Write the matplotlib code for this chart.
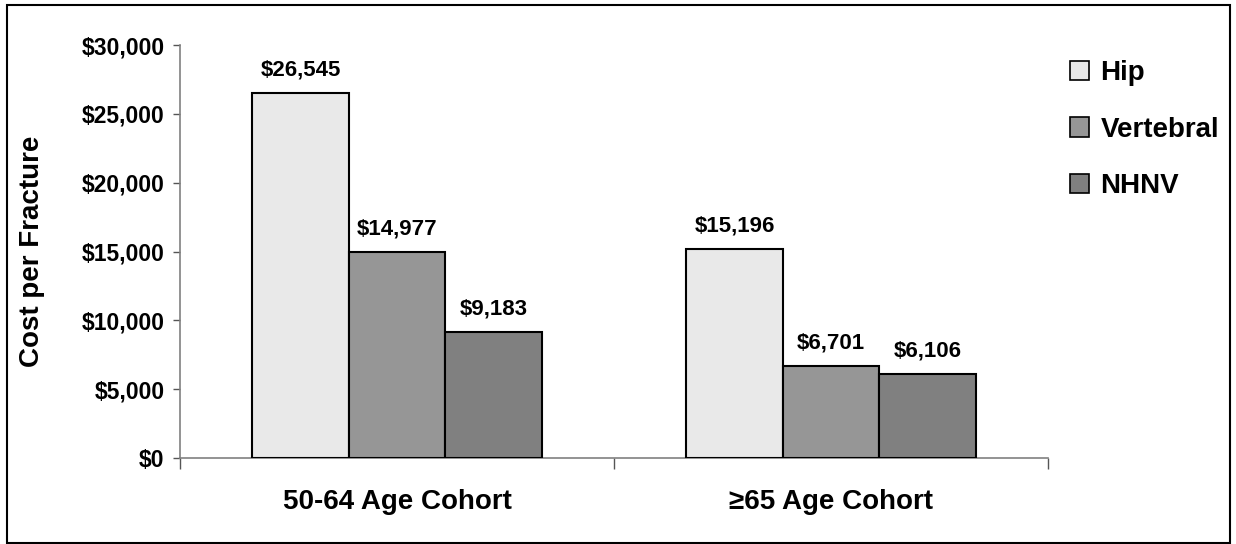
import matplotlib.pyplot as plt
from matplotlib.patches import Rectangle
from matplotlib.ticker import FuncFormatter

cohorts = ["50-64 Age Cohort", "\u226565 Age Cohort"]
fracture_types = ["Hip", "Vertebral", "NHNV"]
hip = [26545, 15196]
vertebral = [14977, 6701]
nhnv = [9183, 6106]
colors = ["#E9E9E9", "#969696", "#808080"]

plt.rcParams['font.family'] = ['Liberation Sans', 'DejaVu Sans']
plt.rcParams['font.weight'] = 'bold'

fig = plt.figure(figsize=(12.36, 5.44), dpi=100)
ax = fig.add_axes([180 / 1236, 86 / 544, 868 / 1236, 413 / 544])

# outer frame around the whole chart
fig.patches.append(Rectangle((7 / 1236, 1 / 544), 1223 / 1236, 538 / 544,
                             transform=fig.transFigure, fill=False,
                             edgecolor='black', linewidth=1.5))

width = 0.222
centers = [0.5, 1.5]
for i, (name, vals) in enumerate(zip(fracture_types, [hip, vertebral, nhnv])):
    xs = [c + (i - 1) * width for c in centers]
    bars = ax.bar(xs, vals, width, color=colors[i], edgecolor='black',
                  linewidth=1.5, label=name, zorder=3)
    for b, v in zip(bars, vals):
        ax.annotate(f"${v:,}", (b.get_x() + b.get_width() / 2, v),
                    xytext=(0, 9), textcoords='offset points',
                    ha='center', va='bottom', fontsize=16, fontweight='bold')

ax.set_xlim(0, 2)
ax.set_ylim(0, 30000)
ax.set_yticks(range(0, 30001, 5000))
ax.yaxis.set_major_formatter(FuncFormatter(lambda v, p: f"${int(v):,}"))
ax.tick_params(axis='y', length=5, width=1, color='#555555', pad=6,
               labelsize=16.5)

ax.set_xticks([0, 1, 2])
ax.set_xticklabels([])
ax.set_xticks(centers, minor=True)
ax.set_xticklabels(cohorts, minor=True, fontsize=20, fontweight='bold')
ax.tick_params(axis='x', which='major', length=8, width=1, color='#555555')
ax.tick_params(axis='x', which='minor', length=0, pad=22)

for s in ['top', 'right']:
    ax.spines[s].set_visible(False)
for s in ['left', 'bottom']:
    ax.spines[s].set_color('#808080')
    ax.spines[s].set_linewidth(1.2)

ax.set_ylabel("Cost per Fracture", fontsize=20, fontweight='bold')
ax.yaxis.set_label_coords(-0.155, 0.5)

leg = ax.legend(loc='upper left', bbox_to_anchor=(1045 / 1236, 0.935),
                bbox_transform=fig.transFigure, frameon=False, fontsize=20,
                handlelength=0.7, handleheight=0.7, handletextpad=0.4,
                labelspacing=1.1)
for h in leg.legend_handles:
    h.set_linewidth(1.2)

fig.savefig("out.png", dpi=100)
